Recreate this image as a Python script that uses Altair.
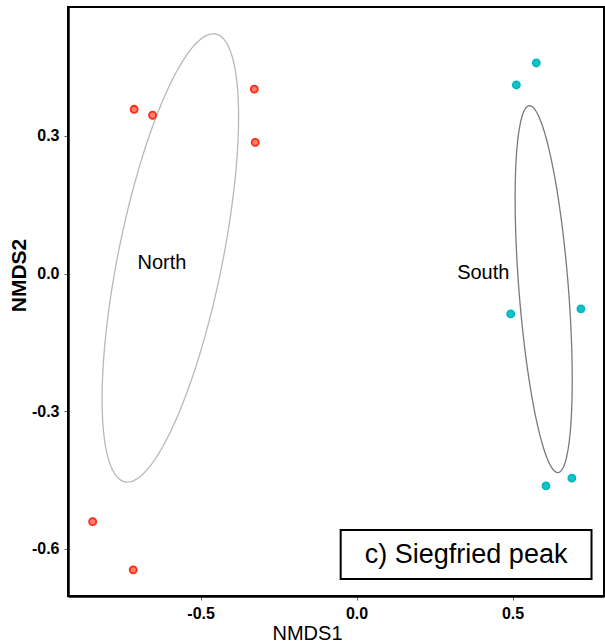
import altair as alt
import numpy as np
import pandas as pd

# ---- data ----
north_x = [-0.713, -0.654, -0.328, -0.325, -0.846, -0.716]
north_y = [0.358, 0.345, 0.402, 0.286, -0.541, -0.646]
south_x = [0.576, 0.512, 0.494, 0.719, 0.607, 0.690]
south_y = [0.459, 0.411, -0.088, -0.077, -0.463, -0.446]
groups = ["North", "South"]
label_x = [-0.624, 0.406]
label_y = [0.023, 0.002]
x_ticks = [-0.5, 0.0, 0.5]
y_ticks = [-0.6, -0.3, 0.0, 0.3]
panel_label = "c) Siegfried peak"

# ---- derived tables ----
pts = pd.DataFrame({
    "NMDS1": north_x + south_x,
    "NMDS2": north_y + south_y,
    "group": ["North"] * len(north_x) + ["South"] * len(south_x),
})


def sd_ellipse(xs, ys, n=160):
    p = np.column_stack([xs, ys])
    c = p.mean(axis=0)
    cov = np.cov(p.T)
    vals, vecs = np.linalg.eigh(cov)
    t = np.linspace(0, 2 * np.pi, n)
    circ = np.column_stack([np.cos(t), np.sin(t)])
    return circ @ (vecs * np.sqrt(vals)).T + c


ell_rows = []
for g, xs, ys in [("North", north_x, north_y), ("South", south_x, south_y)]:
    e = sd_ellipse(xs, ys)
    for i, (a, b) in enumerate(e):
        ell_rows.append({"NMDS1": a, "NMDS2": b, "group": g, "i": i})
ell = pd.DataFrame(ell_rows)

labels = pd.DataFrame({"NMDS1": label_x, "NMDS2": label_y, "text": groups})

box = pd.DataFrame({"NMDS1": [-0.051], "x2": [0.753], "NMDS2": [-0.559], "y2": [-0.666],
                    "tx": [0.351], "ty": [-0.613], "text": [panel_label]})

xs = alt.Scale(domain=[-0.925, 0.793], nice=False, zero=False)
ys = alt.Scale(domain=[-0.703, 0.581], nice=False, zero=False)
FONT = "Liberation Sans"
lab_expr = "datum.value < 0 ? '-' + format(-datum.value, '.1f') : format(datum.value, '.1f')"

x_axis = alt.Axis(values=x_ticks, labelExpr=lab_expr, title="NMDS1",
                  titleFontSize=20, titleFontWeight="normal",
                  titleX=239, titleY=43, titleBaseline="alphabetic", titleAlign="center")
y_axis = alt.Axis(values=y_ticks, labelExpr=lab_expr, title="NMDS2",
                  titleFontSize=21, titleFontWeight="bold",
                  titleX=-43, titleY=268, titleAngle=-90, titleBaseline="alphabetic",
                  titleAlign="center")

ellipses = alt.Chart(ell).mark_line(strokeWidth=1.3).encode(
    x=alt.X("NMDS1:Q", scale=xs, axis=x_axis, title="NMDS1"),
    y=alt.Y("NMDS2:Q", scale=ys, axis=y_axis, title="NMDS2"),
    detail="group:N",
    order="i:Q",
    color=alt.Color("group:N", scale=alt.Scale(domain=groups, range=["#b8b8b8", "#7a7a7a"]), legend=None),
)

points = alt.Chart(pts).mark_point(shape="circle", filled=True, size=50, strokeWidth=1.8, opacity=1).encode(
    x=alt.X("NMDS1:Q", scale=xs, axis=x_axis, title="NMDS1"),
    y=alt.Y("NMDS2:Q", scale=ys, axis=y_axis, title="NMDS2"),
    fill=alt.Fill("group:N", scale=alt.Scale(domain=groups, range=["#ff8070", "#12c4c8"]), legend=None),
    stroke=alt.Stroke("group:N", scale=alt.Scale(domain=groups, range=["#ff2a14", "#00b8bf"]), legend=None),
)

group_text = alt.Chart(labels).mark_text(font=FONT, fontSize=20, color="black", align="center", baseline="middle").encode(
    x=alt.X("NMDS1:Q", scale=xs, axis=x_axis, title="NMDS1"),
    y=alt.Y("NMDS2:Q", scale=ys, axis=y_axis, title="NMDS2"),
    text="text:N",
)

box_rect = alt.Chart(box).mark_rect(fill="white", stroke="black", strokeWidth=2).encode(
    x=alt.X("NMDS1:Q", scale=xs, axis=x_axis, title="NMDS1"), x2="x2:Q",
    y=alt.Y("NMDS2:Q", scale=ys, axis=y_axis, title="NMDS2"), y2="y2:Q",
)
box_text = alt.Chart(box).mark_text(font=FONT, fontSize=27, color="black", align="center", baseline="middle").encode(
    x=alt.X("tx:Q", scale=xs, axis=x_axis, title="NMDS1"),
    y=alt.Y("ty:Q", scale=ys, axis=y_axis, title="NMDS2"),
    text="text:N",
)

chart = alt.layer(ellipses, points, group_text, box_rect, box_text).properties(
    width=536, height=589,
    autosize=alt.AutoSizeParams(type="none"),
    padding={"left": 68, "top": 7, "right": 1, "bottom": 48},
    background="white",
).configure_view(stroke="black", strokeWidth=2).configure_axis(
    domainColor="black", domainWidth=2.5, tickColor="#666", tickSize=4, tickWidth=1,
    labelFont=FONT, labelFontWeight="bold", labelFontSize=16, labelColor="black", labelPadding=5,
    grid=False, titleFont=FONT, titleColor="black",
)

chart.save("out.html", embed_options={"renderer": "svg", "actions": False})
